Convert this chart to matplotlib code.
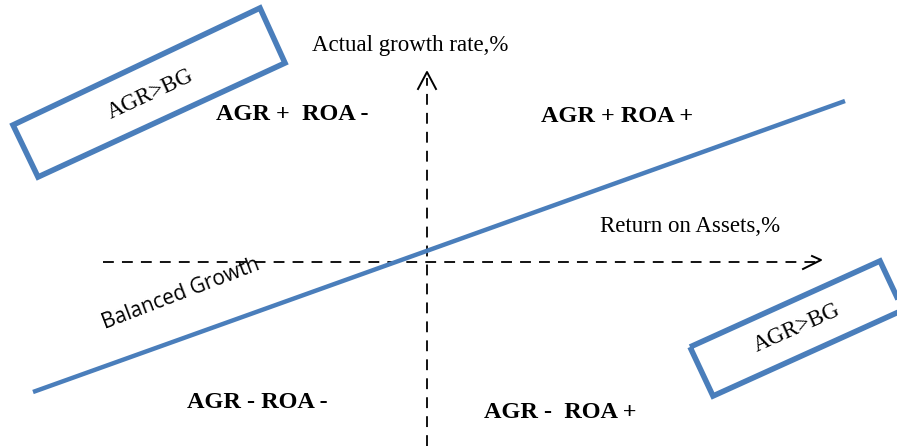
import matplotlib.pyplot as plt
from matplotlib.patches import Polygon

# Diagram drawn in pixel space of the reference (x right, y down).
balanced_x = [33, 845]
balanced_y = [392, 101]

h_axis_x = [103, 818]
h_axis_y = [262, 262]
v_axis_x = [427, 427]
v_axis_y = [446, 78]

# chevrons at the axis ends: (wing, apex, wing)
v_arrow_x = [418, 427, 436]
v_arrow_y = [89, 72, 89]
h_arrow_x = [803, 821, 812]
h_arrow_y = [269, 260, 256]

box_left_x = [13, 260, 285, 38]
box_left_y = [125, 8, 63, 177]
box_right_x = [690, 880, 903, 713]
box_right_y = [347, 261, 310, 396]

quadrant_labels = ['AGR +  ROA -', 'AGR + ROA +', 'AGR - ROA -', 'AGR -  ROA +']
quadrant_x = [292, 617, 257, 560]
quadrant_y = [115, 116, 402, 413]

fig, ax = plt.subplots(figsize=(8.97, 4.46), dpi=100)
fig.subplots_adjust(left=0, right=1, bottom=0, top=1)
ax.set_xlim(0, 897)
ax.set_ylim(446, 0)
ax.set_axis_off()

blue = '#4a7ebb'
serif = ['Liberation Serif', 'DejaVu Serif']

ax.plot(h_axis_x, h_axis_y, color='black', lw=1.3, dashes=(6, 4.5))
ax.plot(v_axis_x, v_axis_y, color='black', lw=1.3, dashes=(6, 4.5))
ax.plot(v_arrow_x, v_arrow_y, color='black', lw=1.4)
ax.plot(h_arrow_x, h_arrow_y, color='black', lw=1.4)

ax.plot(balanced_x, balanced_y, color=blue, lw=3.2, solid_capstyle='butt')

for xs, ys in [(box_left_x, box_left_y), (box_right_x, box_right_y)]:
    ax.add_patch(Polygon(list(zip(xs, ys)), closed=True, fill=False,
                         edgecolor=blue, lw=4, joinstyle='miter'))

ax.text(150, 94, 'AGR>BG', family=serif, fontsize=16.5, rotation=25,
        ha='center', va='center', rotation_mode='anchor')
ax.text(797, 328, 'AGR>BG', family=serif, fontsize=16.5, rotation=24,
        ha='center', va='center', rotation_mode='anchor')

ax.text(410, 45, 'Actual growth rate,%', family=serif, fontsize=16.5,
        ha='center', va='center')
ax.text(690, 227, 'Return on Assets,%', family=serif, fontsize=16.5,
        ha='center', va='center')

for label, x, y in zip(quadrant_labels, quadrant_x, quadrant_y):
    ax.text(x, y, label, family=serif, fontsize=17.5, fontweight='bold',
            ha='center', va='center')

ax.text(181, 294, 'Balanced Growth', family=['Open Sans', 'DejaVu Sans'],
        fontsize=15, rotation=21, ha='center', va='center',
        rotation_mode='anchor')

fig.savefig('out.png')
